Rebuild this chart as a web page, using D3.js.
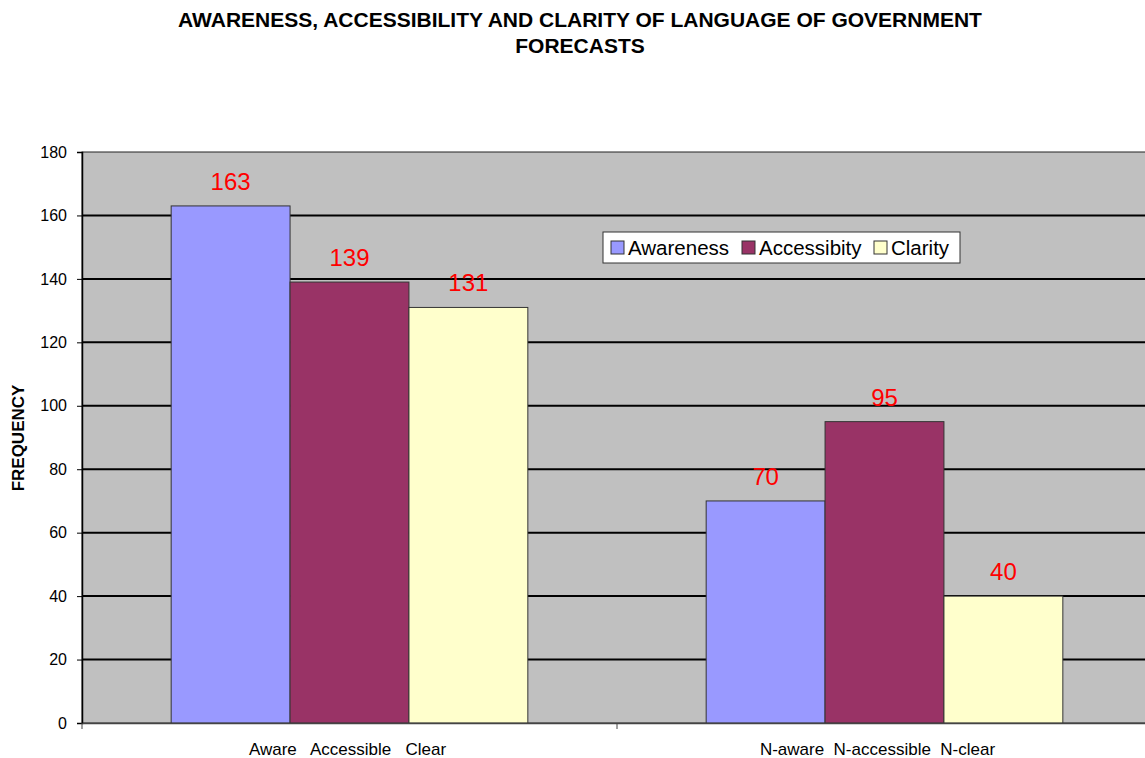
<!DOCTYPE html>
<html>
<head>
<meta charset="utf-8">
<script src="https://cdn.jsdelivr.net/npm/d3@7"></script>
<style>
  html, body { margin: 0; padding: 0; background: #ffffff; }
  svg { display: block; font-family: "Liberation Sans", Arial, sans-serif; }
</style>
</head>
<body>
<svg id="chart" width="1145" height="758"></svg>
<script>
// Survey frequencies per group and series
const categories = ["Aware   Accessible   Clear", "N-aware  N-accessible  N-clear"];
const seriesNames = ["Awareness", "Accessibity", "Clarity"];
const awareness = [163, 70];
const accessibility = [139, 95];
const clarity = [131, 40];
const yTicks = [0, 20, 40, 60, 80, 100, 120, 140, 160, 180];
const colors = ["#9999FF", "#993366", "#FFFFCC"];

const values = [awareness, accessibility, clarity];

const svg = d3.select("#chart");
const margin = { left: 82, top: 152, right: 1152, bottom: 723 };

const x = d3.scaleBand().domain(categories).range([margin.left, margin.right]).paddingInner(0).paddingOuter(0);
const inner = d3.scaleBand().domain(seriesNames).range([0, x.bandwidth()]).paddingInner(0).paddingOuter(0.75);
const y = d3.scaleLinear().domain([0, 180]).range([margin.bottom, margin.top]);

// Title
const title = svg.append("text")
  .attr("x", 580).attr("text-anchor", "middle")
  .attr("font-weight", "bold").attr("font-size", 21);
title.append("tspan").attr("x", 580).attr("y", 27).text("AWARENESS, ACCESSIBILITY AND CLARITY OF LANGUAGE OF GOVERNMENT");
title.append("tspan").attr("x", 580).attr("y", 53).text("FORECASTS");

// Plot background
svg.append("rect")
  .attr("x", margin.left).attr("y", margin.top)
  .attr("width", margin.right - margin.left).attr("height", margin.bottom - margin.top)
  .attr("fill", "#C0C0C0").attr("stroke", "#222").attr("stroke-width", 1);

// Horizontal gridlines
svg.append("g").selectAll("line").data(yTicks.filter(d => d > 0 && d < 180)).join("line")
  .attr("x1", margin.left).attr("x2", margin.right)
  .attr("y1", d => y(d)).attr("y2", d => y(d))
  .attr("stroke", "#000").attr("stroke-width", 2);

// Bars
const groups = svg.append("g").selectAll("g").data(categories).join("g")
  .attr("transform", d => `translate(${x(d)},0)`);

groups.each(function(cat, ci) {
  const g = d3.select(this);
  seriesNames.forEach((s, si) => {
    const v = values[si][ci];
    g.append("rect")
      .attr("x", inner(s)).attr("y", y(v))
      .attr("width", inner.bandwidth()).attr("height", y(0) - y(v))
      .attr("fill", colors[si]).attr("stroke", "#333").attr("stroke-width", 1);
    g.append("text")
      .attr("x", inner(s) + inner.bandwidth() / 2).attr("y", y(v) - 16)
      .attr("text-anchor", "middle").attr("font-size", 24).attr("fill", "#FF0000")
      .text(v);
  });
});

// Y axis
const yAxis = svg.append("g").attr("transform", `translate(${margin.left},0)`)
  .call(d3.axisLeft(y).tickValues(yTicks).tickSize(5).tickPadding(10).tickFormat(d3.format("d")));
yAxis.select(".domain").attr("stroke", "#000").attr("stroke-width", 1.5);
yAxis.selectAll(".tick line").attr("stroke", "#000");
yAxis.selectAll("text").attr("font-size", 16).attr("fill", "#000")
  .attr("font-family", "Liberation Sans, Arial, sans-serif");

// X axis
const xAxis = svg.append("g").attr("transform", `translate(0,${margin.bottom})`)
  .call(d3.axisBottom(x).tickSize(0).tickPadding(20));
xAxis.select(".domain").attr("stroke", "#444").attr("stroke-width", 1.5);
xAxis.selectAll("text").attr("font-size", 17).attr("fill", "#000")
  .attr("font-family", "Liberation Sans, Arial, sans-serif")
  .attr("dx", (d, i) => i === 0 ? -2 : -7)
  .style("white-space", "pre").attr("xml:space", "preserve");
// Category separators
svg.append("g").selectAll("line").data(categories).join("line")
  .attr("x1", d => x(d)).attr("x2", d => x(d))
  .attr("y1", margin.bottom).attr("y2", margin.bottom + 6)
  .attr("stroke", "#444");

// Y axis title
svg.append("text")
  .attr("transform", `translate(24,438) rotate(-90)`)
  .attr("text-anchor", "middle").attr("font-weight", "bold").attr("font-size", 17)
  .text("FREQUENCY");

// Legend
const legend = svg.append("g").attr("transform", "translate(603,232)");
legend.append("rect").attr("width", 357).attr("height", 31)
  .attr("fill", "#fff").attr("stroke", "#333").attr("stroke-width", 1);
const legendX = [8, 139, 271];
seriesNames.forEach((s, i) => {
  legend.append("rect").attr("x", legendX[i]).attr("y", 9)
    .attr("width", 13).attr("height", 13)
    .attr("fill", colors[i]).attr("stroke", "#333");
  legend.append("text").attr("x", legendX[i] + 17).attr("y", 23)
    .attr("font-size", 20.5).attr("fill", "#000").text(s);
});
</script>
</body>
</html>
